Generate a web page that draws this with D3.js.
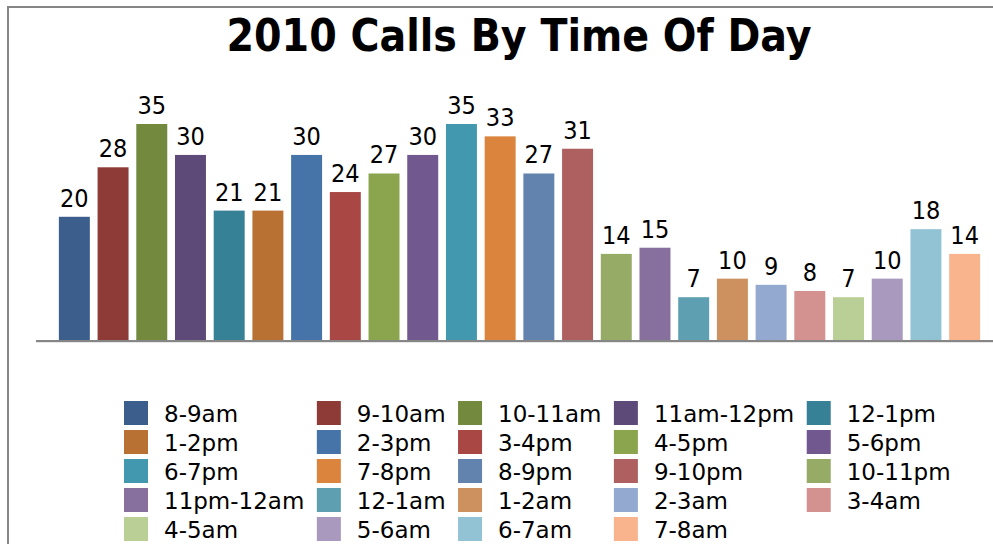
<!DOCTYPE html>
<html>
<head>
<meta charset="utf-8">
<script src="https://cdn.jsdelivr.net/npm/d3@7"></script>
<style>
  body { margin: 0; background: #fff; }
  svg { display: block; font-family: "DejaVu Sans Condensed", "DejaVu Sans", sans-serif; font-stretch: condensed; }
  .legend text { font-family: "DejaVu Sans", sans-serif; font-stretch: normal; }
</style>
</head>
<body>
<div id="chart"></div>
<script>
// time slots, in the order they are plotted
const slots = ["8-9am", "9-10am", "10-11am", "11am-12pm", "12-1pm",
  "1-2pm", "2-3pm", "3-4pm", "4-5pm", "5-6pm",
  "6-7pm", "7-8pm", "8-9pm", "9-10pm", "10-11pm",
  "11pm-12am", "12-1am", "1-2am", "2-3am", "3-4am",
  "4-5am", "5-6am", "6-7am", "7-8am"];

// number of calls per slot
const calls = [20, 28, 35, 30, 21, 21, 30, 24, 27, 30, 35, 33, 27, 31, 14, 15, 7, 10, 9, 8, 7, 10, 18, 14];

// office style palette, one per slot
const colors = ["#3b5e8c", "#8e3a37", "#738a3e", "#5e4a78", "#368196",
  "#b87033", "#4673a8", "#a94744", "#8aa54d", "#71588f",
  "#4198af", "#db843d", "#6283ae", "#ad605f", "#96ab66",
  "#876f9e", "#5ea0b2", "#cd905f", "#93a9d0", "#d39190",
  "#bacf95", "#a999bf", "#92c3d5", "#f9b48d"];

const title = "2010 Calls By Time Of Day";

const width = 993, height = 544;

const svg = d3.select("#chart").append("svg")
  .attr("width", width)
  .attr("height", height);

// frame (only top and left show inside the window)
svg.append("path")
  .attr("d", "M8,544 V7 H993")
  .attr("fill", "none")
  .attr("stroke", "#868686")
  .attr("stroke-width", 2);

svg.append("text")
  .attr("x", 519)
  .attr("y", 51)
  .attr("text-anchor", "middle")
  .attr("font-size", "44px")
  .attr("font-weight", "bold")
  .attr("fill", "#000")
  .text(title);

// scales
const x = d3.scaleBand()
  .domain(slots)
  .range([55, 984])
  .paddingInner(0.2)
  .paddingOuter(0.1);

const y = d3.scaleLinear()
  .domain([0, 35])
  .range([340.5, 124]);

// bars
svg.append("g")
  .selectAll("rect")
  .data(calls)
  .join("rect")
    .attr("x", (d, i) => x(slots[i]))
    .attr("y", d => y(d))
    .attr("width", x.bandwidth())
    .attr("height", d => y(0) - y(d))
    .attr("fill", (d, i) => colors[i]);

// value labels
svg.append("g")
  .selectAll("text")
  .data(calls)
  .join("text")
    .attr("x", (d, i) => x(slots[i]) + x.bandwidth() / 2)
    .attr("y", d => y(d) - 10)
    .attr("text-anchor", "middle")
    .attr("font-size", "25px")
    .attr("fill", "#000")
    .text(d => d);

// category axis line
svg.append("line")
  .attr("x1", 36).attr("x2", 993)
  .attr("y1", 342).attr("y2", 342)
  .attr("stroke", "#d0d0d0")
  .attr("stroke-width", 1);
svg.append("line")
  .attr("x1", 36).attr("x2", 993)
  .attr("y1", 341).attr("y2", 341)
  .attr("stroke", "#868686")
  .attr("stroke-width", 2);

// legend: 5 columns, row major, column width follows longest label
const nCols = 5, sw = 24, gapText = 16, gapCol = 12.5, rowH = 29;
const legend = svg.append("g").attr("class", "legend");

const items = legend.selectAll("g")
  .data(slots)
  .join("g");

items.append("rect")
  .attr("width", sw)
  .attr("height", sw)
  .attr("fill", (d, i) => colors[i]);

items.append("text")
  .attr("x", sw + gapText)
  .attr("y", 21)
  .attr("font-size", "23px")
  .attr("fill", "#000")
  .text(d => d);

const colW = d3.range(nCols).map(c => {
  let m = 0;
  items.filter((d, i) => i % nCols === c).select("text")
    .each(function() { m = Math.max(m, this.getComputedTextLength()); });
  return sw + gapText + m + gapCol;
});
const colX = [124];
for (let c = 1; c < nCols; c++) colX.push(colX[c - 1] + colW[c - 1]);

items.attr("transform", (d, i) =>
  `translate(${colX[i % nCols]}, ${401 + Math.floor(i / nCols) * rowH})`);
</script>
</body>
</html>
